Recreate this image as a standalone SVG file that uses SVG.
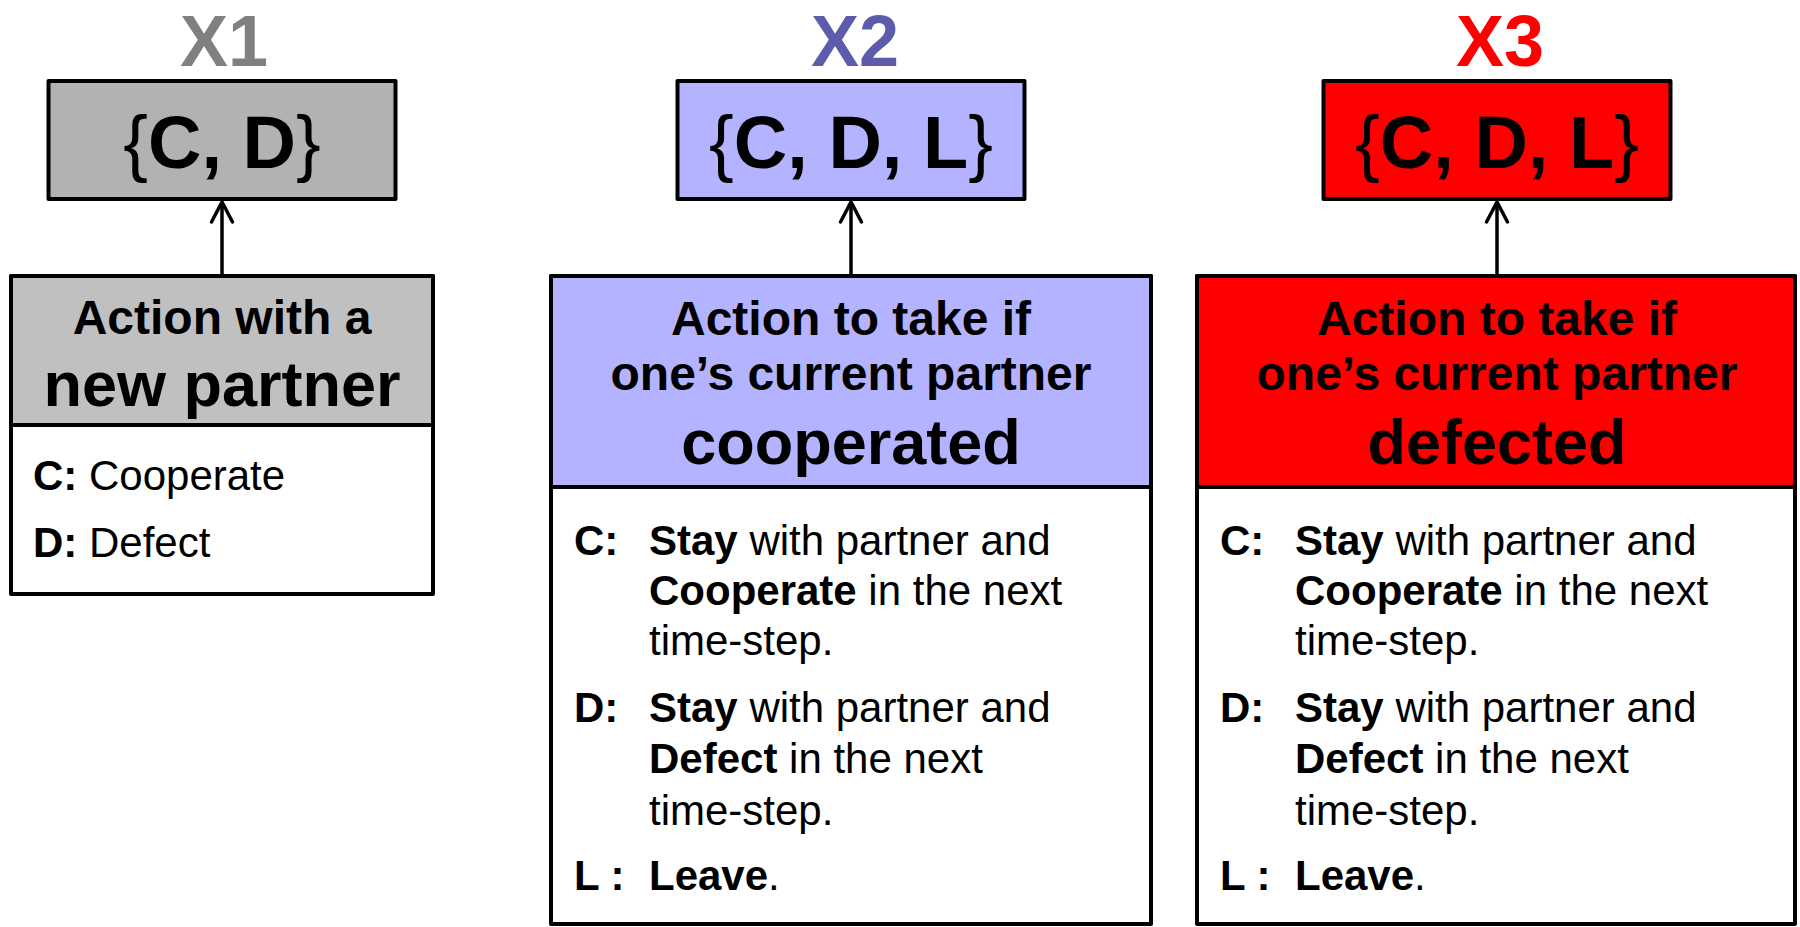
<svg xmlns="http://www.w3.org/2000/svg" width="1800" height="927" viewBox="0 0 1800 927">
  <defs>
    <style>
      text { font-family: "Liberation Sans", Arial, sans-serif; fill: #000; }
      .b { font-weight: bold; }
      .r { font-weight: normal; }
      .title { font-size: 72px; font-weight: bold; text-anchor: middle; }
      .set { font-size: 74px; font-weight: bold; text-anchor: middle; }
      .head { font-size: 48px; font-weight: bold; text-anchor: middle; }
      .big { font-size: 63px; font-weight: bold; text-anchor: middle; }
      .body { font-size: 42px; }
      .box { stroke: #000; stroke-width: 4; stroke-linejoin: round; }
      .white { fill: #fff; }
      .grey1 { fill: #b2b2b2; }
      .grey2 { fill: #c0c0c0; }
      .blue { fill: #b3b3ff; }
      .red { fill: #ff0000; }
      .link { stroke: #000; stroke-width: 3.5; fill: none; }
    </style>
    <marker id="chev" viewBox="-26 -14 30 28" refX="0" refY="0" markerUnits="userSpaceOnUse" markerWidth="30" markerHeight="28" orient="auto">
      <path d="M-20,-10.5 L0,0 L-20,10.5" fill="none" stroke="#000" stroke-width="3.5" stroke-linecap="round" stroke-linejoin="miter"/>
    </marker>
  </defs>

  <rect width="1800" height="927" fill="#fff"/>

  <!-- Column 1: action with a new partner -->
  <g id="x1-label">
    <text class="title" x="224" y="66" style="fill:#808080">X1</text>
  </g>
  <g id="x1-set">
    <rect class="box grey1" x="48.5" y="81" width="347" height="118"/>
    <text class="set" x="222" y="168"><tspan class="r">{</tspan>C, D<tspan class="r">}</tspan></text>
  </g>
  <g id="x1-action">
    <rect class="box white" x="11" y="276" width="422" height="318"/>
    <rect class="box grey2" x="11" y="276" width="422" height="149"/>
    <text class="head" x="222" y="334">Action with a</text>
    <text class="big" x="222" y="406">new partner</text>
    <text class="body" x="33" y="490"><tspan class="b">C:</tspan> Cooperate</text>
    <text class="body" x="33" y="557"><tspan class="b">D:</tspan> Defect</text>
  </g>

  <!-- Column 2: partner cooperated -->
  <g id="x2-label">
    <text class="title" x="855" y="66" style="fill:#5c5cab">X2</text>
  </g>
  <g id="x2-set">
    <rect class="box blue" x="677.5" y="81" width="347" height="118"/>
    <text class="set" x="851" y="168"><tspan class="r">{</tspan>C, D, L<tspan class="r">}</tspan></text>
  </g>
  <g id="x2-action">
    <rect class="box white" x="551" y="276" width="600" height="648"/>
    <rect class="box blue" x="551" y="276" width="600" height="211"/>
    <text class="head" x="851" y="335">Action to take if</text>
    <text class="head" x="851" y="390">one’s current partner</text>
    <text class="big" x="851" y="464">cooperated</text>
    <text class="body b" x="574" y="555">C:</text>
    <text class="body" x="649" y="555"><tspan class="b">Stay</tspan> with partner and</text>
    <text class="body" x="649" y="605"><tspan class="b">Cooperate</tspan> in the next</text>
    <text class="body" x="649" y="655">time-step.</text>
    <text class="body b" x="574" y="722">D:</text>
    <text class="body" x="649" y="722"><tspan class="b">Stay</tspan> with partner and</text>
    <text class="body" x="649" y="773"><tspan class="b">Defect</tspan> in the next</text>
    <text class="body" x="649" y="825">time-step.</text>
    <text class="body b" x="574" y="890">L :</text>
    <text class="body" x="649" y="890"><tspan class="b">Leave</tspan>.</text>
  </g>

  <!-- Column 3: partner defected -->
  <g id="x3-label">
    <text class="title" x="1500" y="66" style="fill:#ff0000">X3</text>
  </g>
  <g id="x3-set">
    <rect class="box red" x="1323.5" y="81" width="347" height="118"/>
    <text class="set" x="1497" y="168"><tspan class="r">{</tspan>C, D, L<tspan class="r">}</tspan></text>
  </g>
  <g id="x3-action">
    <rect class="box white" x="1197" y="276" width="598" height="648"/>
    <rect class="box red" x="1197" y="276" width="598" height="211"/>
    <text class="head" x="1497" y="335">Action to take if</text>
    <text class="head" x="1497" y="390">one’s current partner</text>
    <text class="big" x="1497" y="464">defected</text>
    <text class="body b" x="1220" y="555">C:</text>
    <text class="body" x="1295" y="555"><tspan class="b">Stay</tspan> with partner and</text>
    <text class="body" x="1295" y="605"><tspan class="b">Cooperate</tspan> in the next</text>
    <text class="body" x="1295" y="655">time-step.</text>
    <text class="body b" x="1220" y="722">D:</text>
    <text class="body" x="1295" y="722"><tspan class="b">Stay</tspan> with partner and</text>
    <text class="body" x="1295" y="773"><tspan class="b">Defect</tspan> in the next</text>
    <text class="body" x="1295" y="825">time-step.</text>
    <text class="body b" x="1220" y="890">L :</text>
    <text class="body" x="1295" y="890"><tspan class="b">Leave</tspan>.</text>
  </g>

  <!-- Connectors: each action box points up to its action set -->
  <g id="connectors">
    <line class="link" x1="222" y1="274" x2="222" y2="202" marker-end="url(#chev)"/>
    <line class="link" x1="851" y1="274" x2="851" y2="202" marker-end="url(#chev)"/>
    <line class="link" x1="1497" y1="274" x2="1497" y2="202" marker-end="url(#chev)"/>
  </g>
</svg>
